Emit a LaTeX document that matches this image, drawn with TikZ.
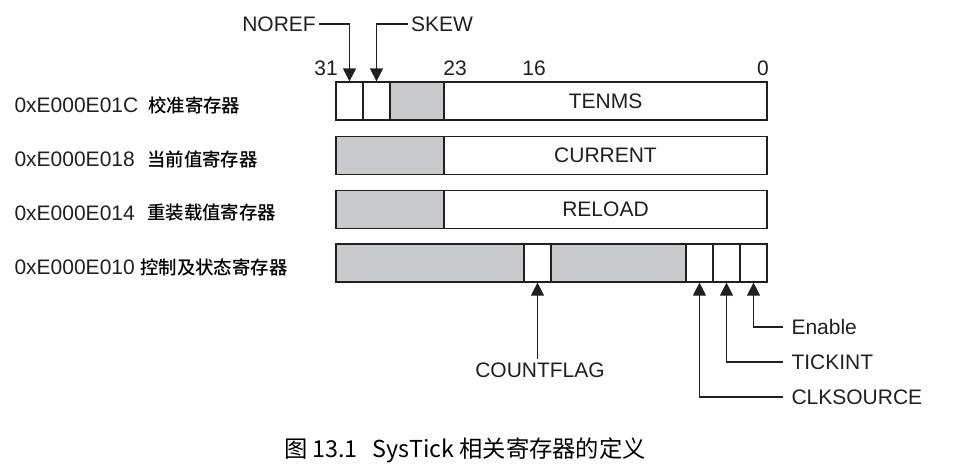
\documentclass[tikz,border=0pt]{standalone}
\usepackage{fontspec}
\setmainfont{Liberation Sans}
\newfontfamily\cjk{Noto Sans CJK SC}
\newfontfamily\cjkmed{Noto Sans CJK SC Medium}
\usetikzlibrary{arrows.meta, positioning}
\definecolor{fieldgray}{RGB}{199,201,203}
\definecolor{inkblack}{RGB}{35,31,32}

\begin{document}
\begin{tikzpicture}[
        x=1pt, y=-1pt,
        field/.style={rectangle, draw=inkblack, line width=1.2pt, minimum height=38pt, inner sep=0pt, text=inkblack, font=\fontsize{21}{25}\selectfont},
        rsv/.style={field, fill=fieldgray},
        tag/.style={text=inkblack, font=\fontsize{21}{25}\selectfont},
        regname/.style={anchor=west, inner sep=0pt, text=black, font=\cjkmed\fontsize{18.4}{22}\selectfont},
        arrow/.style={-{Triangle[width=13pt, length=13pt]}, line width=1.2pt, draw=inkblack}
    ]
        \useasboundingbox (0,0) rectangle (963,471);

        % bit numbers
        \node[tag] (bit31) at (326,68) {31};
        \node[tag] (bit23) at (455,68) {23};
        \node[tag] (bit16) at (534,68) {16};
        \node[tag] (bit0)  at (763,68) {0};

        % calibration register
        \node[field, minimum width=27pt]  (norefbit) at (349.5,101) {};
        \node[field, minimum width=27pt]  (skewbit)  at (376.5,101) {};
        \node[rsv,   minimum width=54pt]  (rsvA)     at (417,101)   {};
        \node[field, minimum width=323pt] (tenms)    at (605.5,101) {TENMS};

        % current value register
        \node[rsv,   minimum width=108pt] (rsvB)     at (390,155.5)   {};
        \node[field, minimum width=323pt] (current)  at (605.5,155.5) {CURRENT};

        % reload value register
        \node[rsv,   minimum width=108pt] (rsvC)     at (390,209.5)   {};
        \node[field, minimum width=323pt] (reload)   at (605.5,209.5) {RELOAD};

        % control and status register
        \node[rsv,   minimum width=188pt] (rsvD)     at (430,263)   {};
        \node[field, minimum width=27pt]  (cflagbit) at (537.5,263) {};
        \node[rsv,   minimum width=135pt] (rsvE)     at (618.5,263) {};
        \node[field, minimum width=27pt]  (clkbit)   at (699.5,263) {};
        \node[field, minimum width=27pt]  (tickbit)  at (726.5,263) {};
        \node[field, minimum width=27pt]  (enbit)    at (753.5,263) {};

        % register addresses and names
        \node[tag, anchor=west] (addrA) at (11,105) {0xE000E01C};
        \node[tag, anchor=west] (addrB) at (11,159) {0xE000E018};
        \node[tag, anchor=west] (addrC) at (11,213) {0xE000E014};
        \node[tag, anchor=west] (addrD) at (11,267) {0xE000E010};
        \node[regname] (nameA) at (148,105) {校准寄存器};
        \node[regname] (nameB) at (147,159) {当前值寄存器};
        \node[regname] (nameC) at (147,213) {重装载值寄存器};
        \node[regname] (nameD) at (140,267) {控制及状态寄存器};

        % field labels
        \node[tag] (noref) at (279,24)  {NOREF};
        \node[tag] (skew)  at (442,24)  {SKEW};
        \node[tag] (cflag) at (540,370) {COUNTFLAG};
        \node[tag, anchor=west] (enable)  at (788,327) {Enable};
        \node[tag, anchor=west] (tickint) at (788,362) {TICKINT};
        \node[tag, anchor=west] (clksrc)  at (788,397) {CLKSOURCE};

        \draw[arrow] (noref.east) -| (norefbit.north);
        \draw[arrow] (skew.west)  -| (skewbit.north);
        \draw[arrow] (cflagbit.south |- cflag.north) -- (cflagbit.south);
        \draw[arrow, shorten <=5pt] (enable.west)  -| (enbit.south);
        \draw[arrow, shorten <=5pt] (tickint.west) -| (tickbit.south);
        \draw[arrow, shorten <=5pt] (clksrc.west)  -| (clkbit.south);

        % caption
        \node[text=black, font=\cjk\fontsize{23.3}{28}\selectfont] (caption) at (465,450) {图 13.1\hspace{15pt}SysTick 相关寄存器的定义};
    \end{tikzpicture}
\end{document}
